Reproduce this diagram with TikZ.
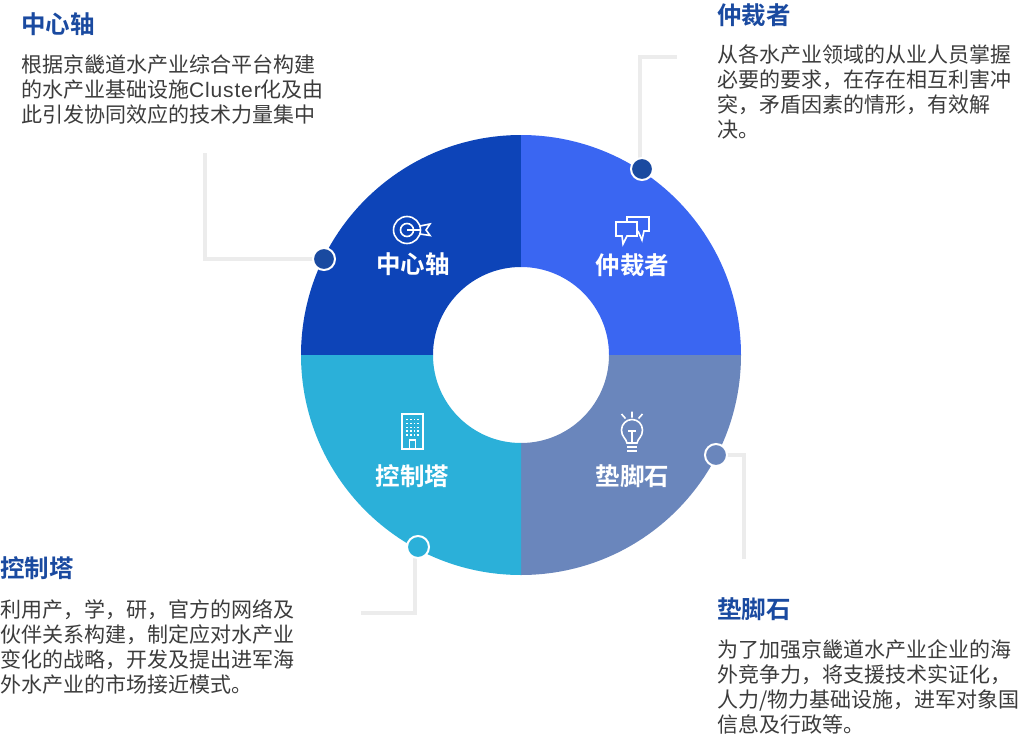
\documentclass[tikz,border=0pt]{standalone}
\usepackage{fontspec}
\setmainfont{Noto Sans CJK SC}
\newfontfamily\bodyf{Noto Sans CJK SC}
\newfontfamily\latf[LetterSpace=4]{Liberation Sans}
\newfontfamily\headf[BoldFont={Noto Sans CJK SC Bold}]{Noto Sans CJK SC}
\definecolor{cA}{HTML}{0D44B8}
\definecolor{cB}{HTML}{3A66F2}
\definecolor{cC}{HTML}{2BB0D9}
\definecolor{cD}{HTML}{6A86BC}
\definecolor{dotdark}{HTML}{1A4AA0}
\definecolor{conn}{HTML}{ECECEC}
\definecolor{bodyc}{HTML}{3C3C3C}
\tikzset{
  connector/.style={draw=conn,line width=4pt,line join=miter},
  marker/.style={circle,draw=white,line width=2pt,minimum size=22pt,inner sep=0pt},
  title/.style={anchor=north west,inner sep=0pt,text=dotdark,font=\headf\bfseries\fontsize{24.5}{28}\selectfont},
  body/.style={anchor=north west,inner sep=0pt,text=bodyc,align=left,font=\bodyf\fontsize{21}{25}\selectfont},
  seglabel/.style={inner sep=0pt,text=white,font=\headf\bfseries\fontsize{24.5}{28}\selectfont},
  icon/.style={draw=white,line width=1.6pt,line join=miter},
}
\begin{document}
\begin{tikzpicture}[x=1pt,y=-1pt]
\useasboundingbox (0,0) rectangle (1031,736);
% ring sectors
\fill[cA] (301,355) arc[start angle=180,end angle=90,radius=220pt] -- (521,267) arc[start angle=90,end angle=180,radius=88pt] -- cycle;
\fill[cB] (521,135) arc[start angle=90,end angle=0,radius=220pt] -- (609,355) arc[start angle=0,end angle=90,radius=88pt] -- cycle;
\fill[cD] (741,355) arc[start angle=0,end angle=-90,radius=220pt] -- (521,443) arc[start angle=-90,end angle=0,radius=88pt] -- cycle;
\fill[cC] (521,575) arc[start angle=-90,end angle=-180,radius=220pt] -- (433,355) arc[start angle=180,end angle=270,radius=88pt] -- cycle;

% connector end points
\coordinate (e1) at (205,153); \coordinate (k1) at (205,259);
\coordinate (e2) at (677,57);  \coordinate (k2) at (640,57);
\coordinate (e3) at (744,559); \coordinate (k3) at (744,455);
\coordinate (e4) at (361,613); \coordinate (k4) at (415,613);
\coordinate (p1) at (324,259);
\coordinate (p2) at (642,169);
\coordinate (p3) at (716,455);
\coordinate (p4) at (418,547);
\coordinate (q2) at (640,160);
\coordinate (q4) at (415,556);
\draw[connector] (e1) -- (k1) -- (p1);
\draw[connector] (e2) -- (k2) -- (q2);
\draw[connector] (e3) -- (k3) -- (p3);
\draw[connector] (e4) -- (k4) -- (q4);
\node[marker,fill=dotdark] (d1) at (p1) {};
\node[marker,fill=dotdark] (d2) at (p2) {};
\node[marker,fill=cD] (d3) at (p3) {};
\node[marker,fill=cC] (d4) at (p4) {};

% segment labels
\node[seglabel] (l1) at (413,264) {中心轴};
\node[seglabel] (l2) at (632.5,265) {仲裁者};
\node[seglabel] (l3) at (412.5,476) {控制塔};
\node[seglabel] (l4) at (632.5,476) {垫脚石};

% target icon
\draw[icon] (407,230) circle[radius=13.5pt];
\draw[icon] (407,230) circle[radius=6.5pt];
\draw[icon] (407,230) -- (420,230);
\draw[icon] (420,226) -- (430,224) -- (426,230) -- (430,235.5) -- (420,234);
% speech icon
\draw[icon] (627,222) -- (627,217) -- (649,217) -- (649,231) -- (644,231) -- (642,240) -- (638,231);
\draw[icon] (616,222) -- (637,222) -- (637,236) -- (627,236) -- (623,244) -- (622,236) -- (616,236) -- cycle;
% building icon
\draw[icon] (402,414) rectangle (423,449);
\draw[icon] (409.5,449) -- (409.5,440) -- (415.5,440) -- (415.5,449);
\foreach \i in {0,1,2,3}{\foreach \j in {0,1,2,3,4}{
  \fill[white] (407+\i*3.7-0.8,419.5+\j*3.9-0.8) rectangle ++(1.6,1.6);
}}
% bulb icon
\draw[icon] (627,443) .. controls (626,438) and (621.5,437) .. (621.5,430) arc[start angle=180,end angle=0,radius=10.5pt] .. controls (642.5,437) and (638,438) .. (637,443) -- cycle;
\draw[icon] (632,443) -- (632,431) (628,431) -- (636,431);
\draw[icon] (627,447) -- (637,447) (627,451) -- (637,451);
\draw[icon] (632,411.5) -- (632,417.5) (621.5,414) -- (625.5,418.5) (642.5,414) -- (638.5,418.5);

% text blocks
\node[title] (t1) at (21,12) {中心轴};
\node[body] (b1) at (21,54.5) {根据京畿道水产业综合平台构建\\的水产业基础设施{\latf Cluster}化及由\\此引发协同效应的技术力量集中};
\node[title] (t2) at (717,3) {仲裁者};
\node[body] (b2) at (717,44.5) {从各水产业领域的从业人员掌握\\必要的要求，在存在相互利害冲\\突，矛盾因素的情形，有效解\\决。};
\node[title] (t3) at (0,556) {控制塔};
\node[body] (b3) at (0,599.5) {利用产，学，研，官方的网络及\\伙伴关系构建，制定应对水产业\\变化的战略，开发及提出进军海\\外水产业的市场接近模式。};
\node[title] (t4) at (717,597) {垫脚石};
\node[body] (b4) at (717,639.5) {为了加强京畿道水产业企业的海\\外竞争力，将支援技术实证化，\\人力/物力基础设施，进军对象国\\信息及行政等。};
\end{tikzpicture}
\end{document}
